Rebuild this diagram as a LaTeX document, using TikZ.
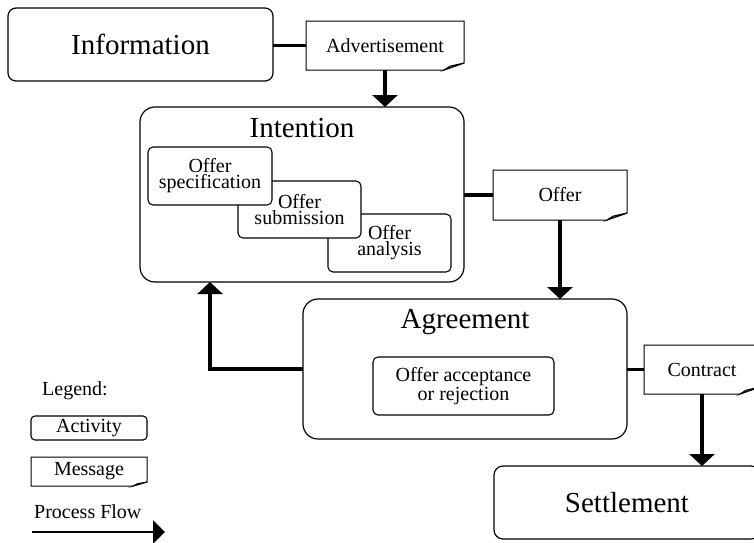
\documentclass[tikz,border=0pt]{standalone}
\usepackage{fontspec}
\setmainfont{Liberation Serif}
\usetikzlibrary{arrows.meta}
\newcommand\msgoutline[3]{%
  \draw[msgline] (#1.north west) -- (#1.north east) -- ([yshift=#3]#1.south east)
     -- ([xshift=-#2]#1.south east) -- (#1.south west) -- cycle;
  \filldraw[msgline, fill=gray!30] ([yshift=#3]#1.south east)
     -- ([xshift=-0.7*#2, yshift=0.55*#3]#1.south east) -- ([xshift=-#2]#1.south east) -- cycle;}
\tikzset{
  big/.style={font=\fontsize{29}{33}\selectfont},
  small/.style={font=\fontsize{20}{16}\selectfont, align=center},
  phase/.style={draw, line width=1.2pt, rounded corners=#1, inner sep=0pt, outer sep=0pt, fill=white},
  phase/.default=15pt,
  activity/.style={draw, line width=1.1pt, rounded corners=5pt, inner sep=0pt, outer sep=0pt, fill=white, small},
  msg/.style={inner sep=0pt, outer sep=0pt, small},
  msgline/.style={line width=1pt},
  link/.style={line width=3.5pt},
  flow/.style={line width=4pt, -{Triangle[length=12pt, width=25pt]}},
}
\begin{document}
\begin{tikzpicture}[x=1pt, y=-1pt]
\useasboundingbox (0,0) rectangle (754,542);
\clip (0,0) rectangle (754,542);

% Information
\node[phase=8pt, big, minimum width=265pt, minimum height=73pt] (info) at (140.5,44.5) {Information};
\node[msg, minimum width=158pt, minimum height=49pt] (adv) at (385,45.5) {Advertisement};
\msgoutline{adv}{20pt}{7pt}

% Intention
\node[phase, minimum width=324pt, minimum height=175pt] (intention) at (302,194.5) {};
\node[big, anchor=base] (intentionlbl) at (302,137) {Intention};
\node[activity, minimum width=123pt, minimum height=58pt] (ana) at (389.5,243) {Offer\\analysis};
\node[activity, minimum width=123pt, minimum height=57pt] (sub) at (299.5,209.5) {Offer\\submission};
\node[activity, minimum width=124pt, minimum height=58pt] (spec) at (210,176) {Offer\\specification};

\node[msg, minimum width=134pt, minimum height=50pt] (offer) at (560,195) {Offer};
\msgoutline{offer}{20pt}{7pt}

% Agreement
\node[phase, minimum width=324pt, minimum height=140pt] (agreement) at (465,369) {};
\node[big, anchor=base] (agreementlbl) at (465,328) {Agreement};
\node[activity, minimum width=181pt, minimum height=58pt, font=\fontsize{20}{15}\selectfont] (accept) at (463.5,386) {Offer acceptance\\or rejection};

\node[msg, minimum width=116pt, minimum height=49pt] (contract) at (702,369.5) {Contract};
\msgoutline{contract}{20pt}{7pt}

% Settlement
\node[phase=9pt, big, minimum width=266pt, minimum height=73pt] (settle) at (627,502.5) {Settlement};

% connectors
\draw[link] (info.east |- adv.west) -- (adv.west);
\draw[flow] (adv.south) -- (adv.south |- intention.north);
\draw[link] (intention.east |- offer.west) -- (offer.west);
\draw[flow] (offer.south) -- (offer.south |- agreement.north);
\draw[flow] (agreement.west) -| (spec.center |- intention.south);
\draw[link] (agreement.east |- contract.west) -- (contract.west);
\draw[flow] (contract.south) -- (contract.south |- settle.north);

% Legend
\node[small, anchor=base west, inner sep=0pt] (legend) at (42,395) {Legend:};
\node[activity, rounded corners=4pt, minimum width=116pt, minimum height=24pt] (legact) at (89,428) {Activity};
\node[msg, minimum width=116pt, minimum height=29pt] (legmsg) at (89,471.5) {Message};
\msgoutline{legmsg}{14pt}{4pt}
\node[small, anchor=base west, inner sep=0pt] (legflow) at (34,518) {Process Flow};
\coordinate (pfa) at (32,532);
\coordinate (pfb) at (165,532);
\draw[line width=2.5pt, -{Triangle[length=12pt, width=23pt]}] (pfa) -- (pfb);
\end{tikzpicture}
\end{document}
